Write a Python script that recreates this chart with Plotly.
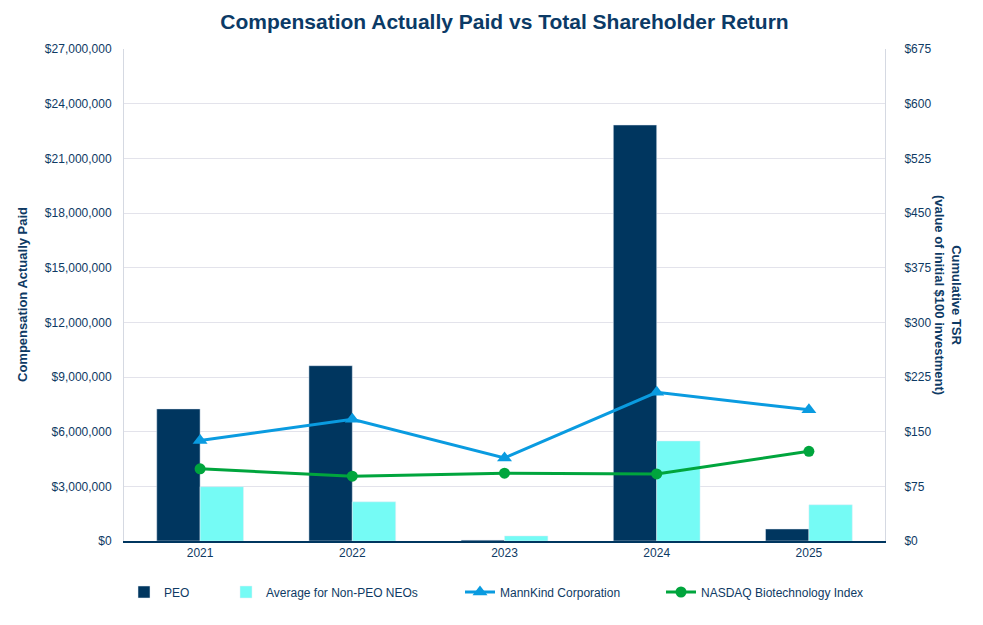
import plotly.graph_objects as go

years = ["2021", "2022", "2023", "2024", "2025"]
peo_cap = [7250000, 9620000, 50000, 22830000, 660000]
neo_cap = [2980000, 2150000, 280000, 5490000, 1990000]
mannkind_tsr = [138, 167, 114, 204, 180]
nasdaq_tsr = [99, 89, 93, 92, 123]

NAVY = "#0E3A64"
FONT = "Liberation Sans, Arial, sans-serif"

fig = go.Figure()
fig.add_trace(go.Bar(x=years, y=peo_cap, name="PEO", marker_color="#00365F", legend="legend",
                     showlegend=True))
fig.add_trace(go.Bar(x=years, y=neo_cap, name="Average for Non-PEO NEOs", marker_color="#75FBF5", legend="legend2"))
fig.add_trace(go.Scatter(x=years, y=mannkind_tsr, name="MannKind Corporation", yaxis="y2",
                         mode="lines+markers", line=dict(color="#0A9BE0", width=3),
                         marker=dict(symbol="triangle-up", size=13, color="#0A9BE0"), legend="legend3"))
fig.add_trace(go.Scatter(x=years, y=nasdaq_tsr, name="NASDAQ Biotechnology Index", yaxis="y2",
                         mode="lines+markers", line=dict(color="#00A53D", width=3),
                         marker=dict(symbol="circle", size=11, color="#00A53D"), legend="legend4"))

W, H = 983, 625
L, R, T, B = 124, 98, 49, 84
pw = W - L - R
ph = H - T - B

def px_x(p):
    return (p - L) / pw

def px_y(p):
    return (H - B - p) / ph

leg_common = dict(orientation="h", yanchor="middle", xanchor="left", y=px_y(592),
                  font=dict(family=FONT, size=12, color=NAVY), bgcolor="rgba(0,0,0,0)")

fig.update_layout(
    width=W, height=H,
    margin=dict(l=L, r=R, t=T, b=B),
    paper_bgcolor="white", plot_bgcolor="white",
    font=dict(family=FONT, size=12, color=NAVY),
    showlegend=True,
    title=dict(text="<b>Compensation Actually Paid vs Total Shareholder Return</b>",
               xref="paper", x=0.5, xanchor="center", y=1 - 22 / H, yanchor="middle",
               font=dict(family=FONT, size=21, color="#0B3A66")),
    barmode="group", bargap=0.43, bargroupgap=0,
    legend=dict(x=0.0, **leg_common),
    legend2=dict(x=px_x(226), **leg_common),
    legend3=dict(x=px_x(460), **leg_common),
    legend4=dict(x=px_x(661), **leg_common),
    xaxis=dict(showline=True, linecolor="#00365F", linewidth=1.5, showgrid=False,
               tickfont=dict(size=12, color=NAVY)),
    yaxis=dict(range=[0, 27000000], dtick=3000000, tickformat="$,.0f", showgrid=True,
               gridcolor="#E3E3EB", gridwidth=1, showline=True, linecolor="#D5D9E2",
               linewidth=1, zeroline=False, ticklabelstandoff=9,
               tickfont=dict(size=12, color=NAVY)),
    yaxis2=dict(range=[0, 675], dtick=75, tickprefix="$", overlaying="y", side="right",
                showgrid=False, showline=True, linecolor="#D5D9E2", linewidth=1,
                zeroline=False, ticklabelstandoff=16, tickfont=dict(size=12, color=NAVY)),
    annotations=[
        dict(text="<b>Compensation Actually Paid</b>", textangle=-90, xref="paper", yref="paper",
             x=px_x(22), y=0.5, xanchor="center", yanchor="middle", showarrow=False,
             font=dict(family=FONT, size=13, color=NAVY)),
        dict(text="<b>Cumulative TSR<br>(value of initial $100 investment)</b>", textangle=90,
             xref="paper", yref="paper", x=px_x(948), y=0.5, xanchor="center", yanchor="middle",
             showarrow=False, font=dict(family=FONT, size=13, color=NAVY)),
    ],
)

fig.write_html("out.html")
